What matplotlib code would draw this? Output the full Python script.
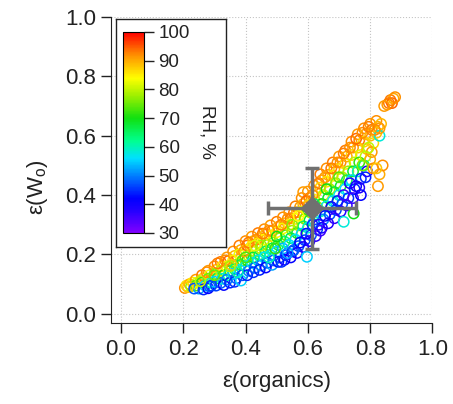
import matplotlib.pyplot as plt
from matplotlib.colors import LinearSegmentedColormap, Normalize
from matplotlib.cm import ScalarMappable

plt.rcParams['font.family'] = 'Liberation Sans'
plt.rcParams['mathtext.fontset'] = 'custom'
plt.rcParams['mathtext.rm'] = 'Liberation Sans'

# data: eps(organics), eps(Wo), RH %
eps_org = [
    0.205, 0.21,
    0.22, 0.225, 0.23,
    0.24, 0.245, 0.24, 0.25,
    0.26, 0.265, 0.26, 0.27, 0.265,
    0.28, 0.285, 0.28, 0.29, 0.285, 0.28,
    0.30, 0.305, 0.30, 0.31, 0.30, 0.305,
    0.32, 0.325, 0.32, 0.33, 0.325, 0.32, 0.33,
    0.34, 0.345, 0.34, 0.35, 0.345, 0.34, 0.35,
    0.36, 0.365, 0.36, 0.37, 0.365, 0.36, 0.37, 0.365,
    0.38, 0.385, 0.38, 0.39, 0.385, 0.38, 0.39, 0.385,
    0.40, 0.405, 0.40, 0.41, 0.405, 0.40, 0.41, 0.405,
    0.42, 0.425, 0.42, 0.43, 0.425, 0.42, 0.43, 0.425,
    0.44, 0.445, 0.44, 0.45, 0.445, 0.44, 0.45, 0.445,
    0.46, 0.465, 0.46, 0.47, 0.465, 0.46, 0.47, 0.465,
    0.48, 0.485, 0.48, 0.49, 0.485, 0.48, 0.49, 0.485,
    0.50, 0.505, 0.50, 0.51, 0.505, 0.50, 0.51, 0.505,
    0.52, 0.525, 0.52, 0.53, 0.525, 0.52, 0.53, 0.525,
    0.54, 0.545, 0.54, 0.55, 0.545, 0.54, 0.55, 0.545,
    0.56, 0.565, 0.56, 0.57, 0.565, 0.56, 0.57, 0.565,
    0.58, 0.585, 0.585, 0.58, 0.59, 0.585, 0.58, 0.59, 0.585,
    0.60, 0.605, 0.60, 0.61, 0.605, 0.60, 0.61, 0.605, 0.597,
    0.62, 0.625, 0.62, 0.63, 0.625, 0.62, 0.63, 0.625,
    0.64, 0.645, 0.64, 0.65, 0.645, 0.64, 0.65, 0.645, 0.64,
    0.66, 0.665, 0.66, 0.67, 0.665, 0.66, 0.67, 0.665,
    0.68, 0.685, 0.68, 0.69, 0.685, 0.68, 0.69, 0.685,
    0.70, 0.705, 0.70, 0.71, 0.705, 0.70, 0.71, 0.705, 0.715,
    0.72, 0.725, 0.72, 0.73, 0.725, 0.72, 0.73, 0.725,
    0.74, 0.745, 0.74, 0.75, 0.745, 0.74, 0.75, 0.745, 0.747,
    0.76, 0.765, 0.76, 0.77, 0.765, 0.76, 0.77, 0.765, 0.77,
    0.78, 0.785, 0.78, 0.79, 0.785, 0.78, 0.79, 0.785,
    0.80, 0.805, 0.80, 0.81, 0.805, 0.80, 0.81,
    0.825, 0.83, 0.84, 0.82,
    0.82, 0.825, 0.82, 0.83, 0.835, 0.83,
    0.855, 0.865, 0.875, 0.87, 0.88, 0.86,
    # scattered extra points
    0.215, 0.235, 0.255, 0.275, 0.29, 0.31, 0.335, 0.355, 0.375, 0.395,
    0.41, 0.435, 0.455, 0.475, 0.475, 0.495, 0.515, 0.515, 0.535, 0.535,
    0.555, 0.555, 0.575, 0.575, 0.595, 0.595, 0.615, 0.615, 0.635, 0.635,
    0.655, 0.655, 0.675, 0.675, 0.695, 0.695, 0.715, 0.715, 0.735, 0.735,
    0.755, 0.755, 0.775, 0.775, 0.795, 0.795, 0.815, 0.845, 0.60, 0.62,
    0.66, 0.70, 0.55, 0.50, 0.45, 0.40, 0.35, 0.30, 0.43, 0.57,
]
eps_wo = [
    0.087, 0.095,
    0.100, 0.093, 0.105,
    0.115, 0.105, 0.095, 0.085,
    0.130, 0.120, 0.105, 0.095, 0.082,
    0.145, 0.130, 0.118, 0.105, 0.092, 0.086,
    0.160, 0.148, 0.135, 0.120, 0.108, 0.095,
    0.175, 0.160, 0.145, 0.130, 0.118, 0.104, 0.097,
    0.190, 0.178, 0.160, 0.145, 0.130, 0.115, 0.105,
    0.210, 0.195, 0.180, 0.165, 0.150, 0.135, 0.120, 0.108,
    0.230, 0.215, 0.200, 0.180, 0.165, 0.148, 0.130, 0.112,
    0.245, 0.230, 0.215, 0.195, 0.180, 0.160, 0.145, 0.130,
    0.260, 0.245, 0.228, 0.210, 0.190, 0.172, 0.155, 0.140,
    0.272, 0.255, 0.238, 0.220, 0.200, 0.180, 0.163, 0.148,
    0.285, 0.270, 0.250, 0.232, 0.210, 0.190, 0.172, 0.156,
    0.298, 0.280, 0.262, 0.240, 0.220, 0.198, 0.180, 0.165,
    0.310, 0.293, 0.275, 0.255, 0.232, 0.210, 0.190, 0.175,
    0.325, 0.305, 0.288, 0.265, 0.243, 0.220, 0.198, 0.182,
    0.342, 0.322, 0.300, 0.280, 0.255, 0.232, 0.210, 0.190,
    0.362, 0.342, 0.320, 0.298, 0.272, 0.250, 0.228, 0.205,
    0.390, 0.410, 0.370, 0.345, 0.320, 0.295, 0.270, 0.248, 0.225,
    0.412, 0.390, 0.365, 0.340, 0.315, 0.290, 0.265, 0.245, 0.192,
    0.432, 0.410, 0.385, 0.360, 0.335, 0.310, 0.285, 0.262,
    0.470, 0.450, 0.425, 0.400, 0.370, 0.345, 0.318, 0.290, 0.280,
    0.490, 0.468, 0.445, 0.420, 0.390, 0.362, 0.335, 0.305,
    0.510, 0.488, 0.465, 0.440, 0.410, 0.380, 0.350, 0.322,
    0.530, 0.510, 0.488, 0.460, 0.430, 0.400, 0.370, 0.345, 0.310,
    0.550, 0.530, 0.505, 0.480, 0.450, 0.420, 0.390, 0.365,
    0.580, 0.560, 0.535, 0.510, 0.480, 0.450, 0.420, 0.390, 0.338,
    0.605, 0.585, 0.560, 0.535, 0.510, 0.480, 0.455, 0.425, 0.400,
    0.625, 0.605, 0.580, 0.555, 0.530, 0.500, 0.480, 0.460,
    0.640, 0.620, 0.600, 0.575, 0.545, 0.520, 0.490,
    0.430, 0.470, 0.500, 0.490,
    0.650, 0.630, 0.610, 0.600, 0.640, 0.625,
    0.705, 0.720, 0.725, 0.710, 0.730, 0.710,
    # scattered extra points
    0.090, 0.085, 0.110, 0.140, 0.095, 0.170, 0.180, 0.165, 0.140, 0.210,
    0.240, 0.250, 0.270, 0.190, 0.280, 0.220, 0.300, 0.175, 0.320, 0.205,
    0.340, 0.215, 0.360, 0.240, 0.380, 0.270, 0.400, 0.300, 0.440, 0.300,
    0.460, 0.330, 0.490, 0.360, 0.510, 0.380, 0.540, 0.400, 0.560, 0.440,
    0.590, 0.430, 0.610, 0.500, 0.630, 0.560, 0.620, 0.700, 0.350, 0.370,
    0.420, 0.460, 0.300, 0.260, 0.230, 0.190, 0.160, 0.130, 0.230, 0.330,
]
rh = [
    92, 86,
    90, 78, 85,
    91, 82, 74, 52,
    93, 87, 72, 55, 44,
    91, 83, 75, 60, 48, 42,
    92, 88, 78, 66, 55, 46,
    93, 86, 80, 71, 58, 48, 42,
    91, 94, 83, 73, 60, 50, 44,
    92, 89, 85, 76, 64, 55, 48, 45,
    93, 90, 83, 74, 66, 56, 47, 55,
    92, 94, 87, 80, 71, 60, 50, 44,
    91, 89, 85, 78, 68, 57, 48, 45,
    93, 90, 86, 79, 66, 58, 50, 44,
    92, 89, 84, 76, 65, 56, 47, 42,
    91, 93, 86, 78, 67, 57, 48, 52,
    93, 90, 85, 77, 66, 56, 46, 43,
    92, 89, 83, 74, 63, 53, 45, 40,
    91, 93, 85, 78, 66, 56, 46, 42,
    93, 90, 86, 79, 68, 57, 47, 40,
    92, 91, 89, 84, 76, 65, 55, 46, 39,
    91, 93, 87, 79, 68, 58, 47, 38, 55,
    92, 89, 85, 77, 66, 56, 46, 37,
    93, 91, 87, 80, 70, 60, 50, 40, 36,
    92, 90, 86, 78, 68, 58, 47, 38,
    93, 89, 85, 77, 67, 57, 46, 37,
    91, 92, 87, 79, 68, 58, 47, 38, 58,
    93, 90, 86, 78, 66, 56, 45, 37,
    92, 91, 87, 80, 68, 55, 44, 36, 70,
    91, 93, 88, 82, 72, 60, 45, 38, 42,
    92, 90, 87, 89, 80, 64, 38, 44,
    91, 93, 89, 87, 91, 90, 92,
    91, 90, 92, 88,
    92, 90, 88, 58, 89, 91,
    91, 93, 90, 94, 92, 93,
    # scattered extra points
    88, 47, 80, 92, 46, 93, 92, 88, 60, 91,
    93, 92, 93, 60, 92, 72, 93, 45, 92, 52,
    93, 48, 91, 42, 94, 40, 92, 45, 93, 38,
    91, 42, 93, 40, 92, 44, 93, 36, 92, 38,
    94, 40, 92, 76, 93, 80, 92, 91, 72, 66,
    70, 74, 77, 70, 78, 73, 79, 75, 82, 84,
]

# mean with uncertainty (grey diamond)
mean_org, mean_wo = 0.613, 0.355
err_org, err_wo = 0.14, 0.135

rh_ticks = [30, 40, 50, 60, 70, 80, 90, 100]
axis_ticks = [0.0, 0.2, 0.4, 0.6, 0.8, 1.0]

# Igor-like rainbow
rh_anchor = [30, 38, 42, 50, 56, 62, 70, 78, 84, 92, 100]
rh_colors = ['#8000ff', '#2000ff', '#0000ff', '#0080ff', '#00e0ff', '#00ff90',
             '#10e010', '#a0f000', '#ffff00', '#ff9000', '#ff0000']
cmap = LinearSegmentedColormap.from_list(
    'rh', [((v - 30) / 70, c) for v, c in zip(rh_anchor, rh_colors)])
norm = Normalize(30, 100)

fig = plt.figure(figsize=(4.53, 4.04), dpi=100)
ax = fig.add_axes([0.2444, 0.2012, 0.7103, 0.7567])

ax.scatter(eps_org, eps_wo, s=55, facecolors='none',
           edgecolors=cmap(norm(rh)), linewidths=1.1, zorder=3)
ax.errorbar(mean_org, mean_wo, xerr=err_org, yerr=err_wo, fmt='D',
            color='#707070', ms=11, elinewidth=2.5, capsize=5, capthick=2.5,
            zorder=5)

ax.set_xlim(-0.033, 1.0)
ax.set_ylim(-0.03, 1.0)
ax.set_xticks(axis_ticks)
ax.set_yticks(axis_ticks)
ax.set_xticklabels(['%.1f' % t for t in axis_ticks])
ax.set_yticklabels(['%.1f' % t for t in axis_ticks])
ax.grid(True, ls=':', color='#c4c4c4', lw=0.8)
ax.set_axisbelow(True)
for s in ['top', 'right']:
    ax.spines[s].set_visible(False)
for s in ['left', 'bottom']:
    ax.spines[s].set_color('#222222')
ax.tick_params(direction='out', length=7, width=1, labelsize=16,
               colors='#222222')
ax.tick_params(axis='x', pad=5)

fig.text(277 / 453, 1 - 381 / 404, 'ε(organics)', fontsize=16,
         ha='center', va='center', color='#222222')
fig.text(38 / 453, 1 - 187 / 404, r'ε(W$_\mathrm{o}$)', fontsize=16,
         rotation=90, ha='center', va='center', color='#222222')

# colour scale in a framed box
box = fig.add_axes([0.255, 0.3886, 0.2428, 0.5644])
box.set_xticks([])
box.set_yticks([])
for s in box.spines.values():
    s.set_color('#222222')
    s.set_linewidth(1.0)

cax = fig.add_axes([0.2715, 0.4233, 0.0464, 0.4975])
cb = fig.colorbar(ScalarMappable(norm=norm, cmap=cmap), cax=cax)
cb.set_ticks(rh_ticks)
cb.ax.tick_params(length=7, width=1, labelsize=13.5, colors='#222222')
cb.outline.set_linewidth(0.8)
fig.text(207 / 453, 1 - 132 / 404, 'RH, %', fontsize=13.5, rotation=270,
         ha='center', va='center', color='#222222')

fig.savefig('out.png', dpi=100)
